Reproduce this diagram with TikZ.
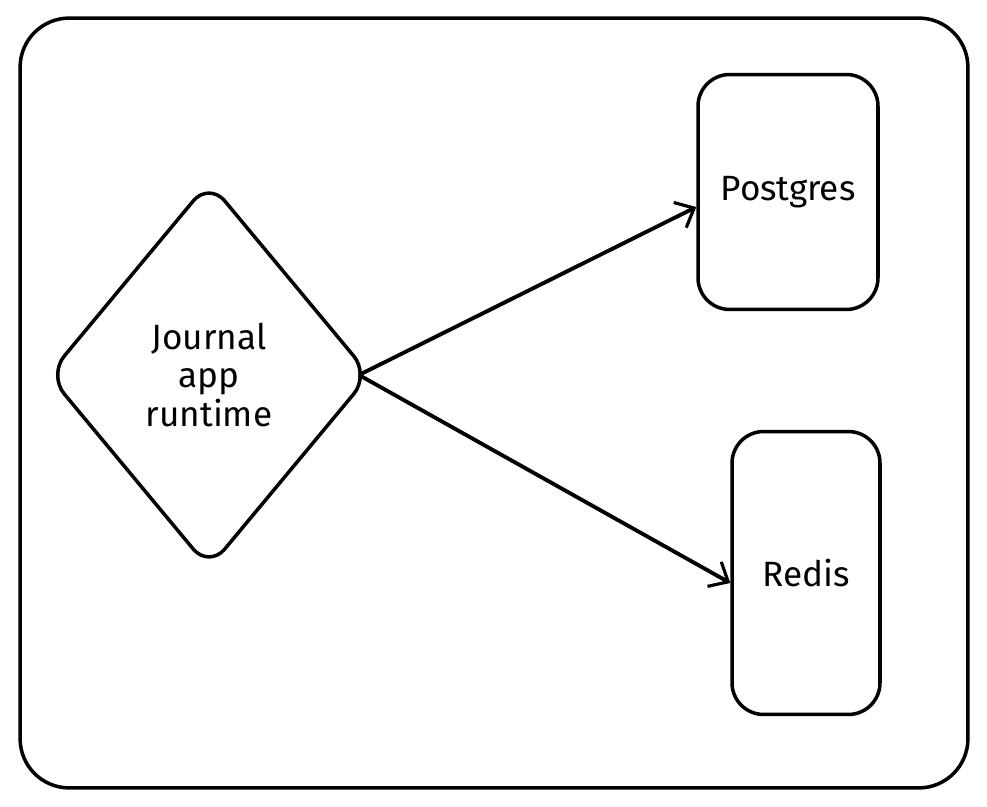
\documentclass[tikz,border=0pt]{standalone}
\usepackage{fontspec}
\setmainfont{Fira Sans}
\usetikzlibrary{arrows.meta,shapes.geometric,positioning}
\tikzset{
    frame/.style={
    rectangle,rounded corners=28pt,draw=black,line width=2pt
    },
    runtime/.style={
    diamond,rounded corners=14pt,draw=black,line width=2pt,
    inner sep=0pt,minimum width=6.45cm,minimum height=7.75cm,
    align=center,font=\fontsize{20}{22}\selectfont
    },
    store/.style={
    rectangle,rounded corners=18pt,draw=black,line width=2pt,
    inner sep=0pt,font=\fontsize{20}{22}\selectfont
    },
    link/.style={
    line width=2.2pt,-{Straight Barb[length=9pt,width=16pt,line width=1.8pt]}
    },
}
\begin{document}
\begin{tikzpicture}[x=0.02cm,y=-0.02cm]
   \useasboundingbox (0,0) rectangle (987,807);
   \node[frame,minimum width=18.96cm,minimum height=15.4cm] (box) at (494,403) {};
   \node[runtime] (app) at (209,375) {Journal\\app\\runtime};
   \node[store,minimum width=3.6cm,minimum height=4.7cm] (pg) at (788,192) {Postgres};
   \node[store,minimum width=2.96cm,minimum height=5.66cm] (redis) at (806,573) {Redis};

  \path[link]
    ([xshift=-0.26cm]app.east) edge ([yshift=-0.3cm]pg.west)
    ([xshift=-0.26cm]app.east) edge ([yshift=-0.2cm]redis.west);
  \end{tikzpicture}
\end{document}
